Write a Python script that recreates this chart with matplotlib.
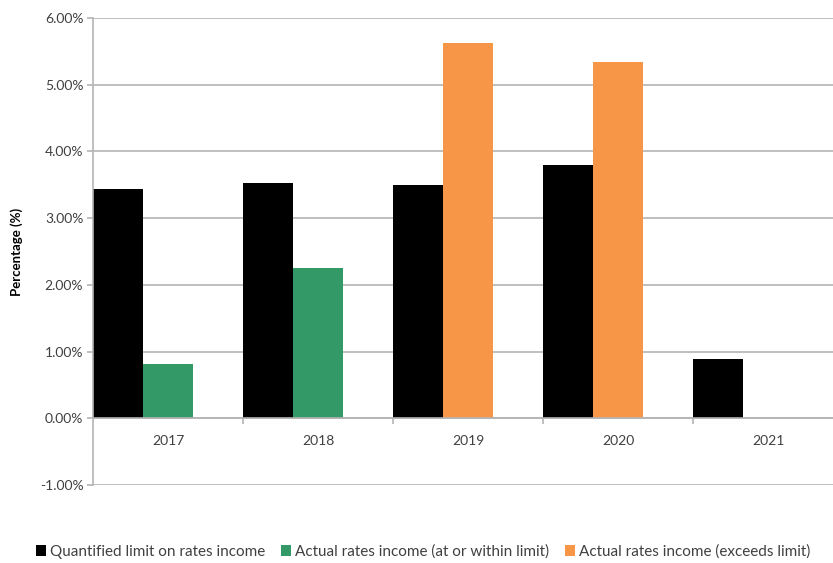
import numpy as np
import matplotlib.pyplot as plt
from matplotlib.ticker import FuncFormatter, FixedLocator

plt.rcParams['font.family'] = ['Lato', 'DejaVu Sans']

# Rates income vs. quantified limit, by year (%)
years = ['2017', '2018', '2019', '2020', '2021']
limit = [3.44, 3.52, 3.50, 3.79, 0.89]
within_limit = [0.82, 2.25, np.nan, np.nan, np.nan]
exceeds_limit = [np.nan, np.nan, 5.62, 5.34, np.nan]

c_limit = '#000000'
c_within = '#339966'
c_exceeds = '#F79646'
grid_col = '#B4B4B4'
text_col = '#404040'

fig = plt.figure(figsize=(8.33, 5.63), dpi=100)
ax = fig.add_axes([93 / 833, 1 - 485 / 563, 750 / 833, 467 / 563])

x = np.arange(len(years))
w = 1 / 3
ax.bar(x - 0.5, limit, width=w, align='edge', color=c_limit,
       label='Quantified limit on rates income')
ax.bar(x - 0.5 + w, within_limit, width=w, align='edge', color=c_within,
       label='Actual rates income (at or within limit)')
ax.bar(x - 0.5 + w, exceeds_limit, width=w, align='edge', color=c_exceeds,
       label='Actual rates income (exceeds limit)')

ax.set_xlim(-0.5, len(years) - 0.5)
ax.set_ylim(-1, 6)
ax.set_yticks(np.arange(-1, 7, 1))
ax.yaxis.set_major_formatter(FuncFormatter(lambda v, p: f'{v:.2f}%'))
ax.grid(axis='y', color=grid_col, linewidth=1.2)
ax.set_axisbelow(True)

# category axis sits on the zero line, tick marks between categories
for s in ['top', 'right']:
    ax.spines[s].set_visible(False)
ax.spines['bottom'].set_position(('data', 0))
ax.spines['bottom'].set_color(grid_col)
ax.spines['bottom'].set_linewidth(1.2)
ax.spines['left'].set_color(grid_col)
ax.spines['left'].set_linewidth(1.2)
ax.xaxis.set_major_locator(FixedLocator(x[:-1] + 0.5))
ax.xaxis.set_major_formatter(FuncFormatter(lambda v, p: ''))
ax.xaxis.set_minor_locator(FixedLocator(x))
ax.set_xticklabels(years, minor=True)
ax.tick_params(axis='x', which='major', direction='out', length=4,
               color=grid_col, width=1.2)
ax.tick_params(axis='x', which='minor', length=0, pad=12,
               labelsize=10, labelcolor=text_col)
ax.tick_params(axis='y', direction='out', length=4, color=grid_col,
               width=1.2, labelsize=10, labelcolor=text_col, pad=3)

ax.set_ylabel('Percentage (%)', fontsize=9.5, fontweight='bold', color='#000000',
              labelpad=12)

fig.legend(loc='center', bbox_to_anchor=(0.508, 0.02), ncol=3, frameon=False,
           fontsize=11, handlelength=0.65, handleheight=0.65, handletextpad=0.3,
           columnspacing=1.0, labelcolor=text_col)

fig.savefig('out.png', dpi=100)
